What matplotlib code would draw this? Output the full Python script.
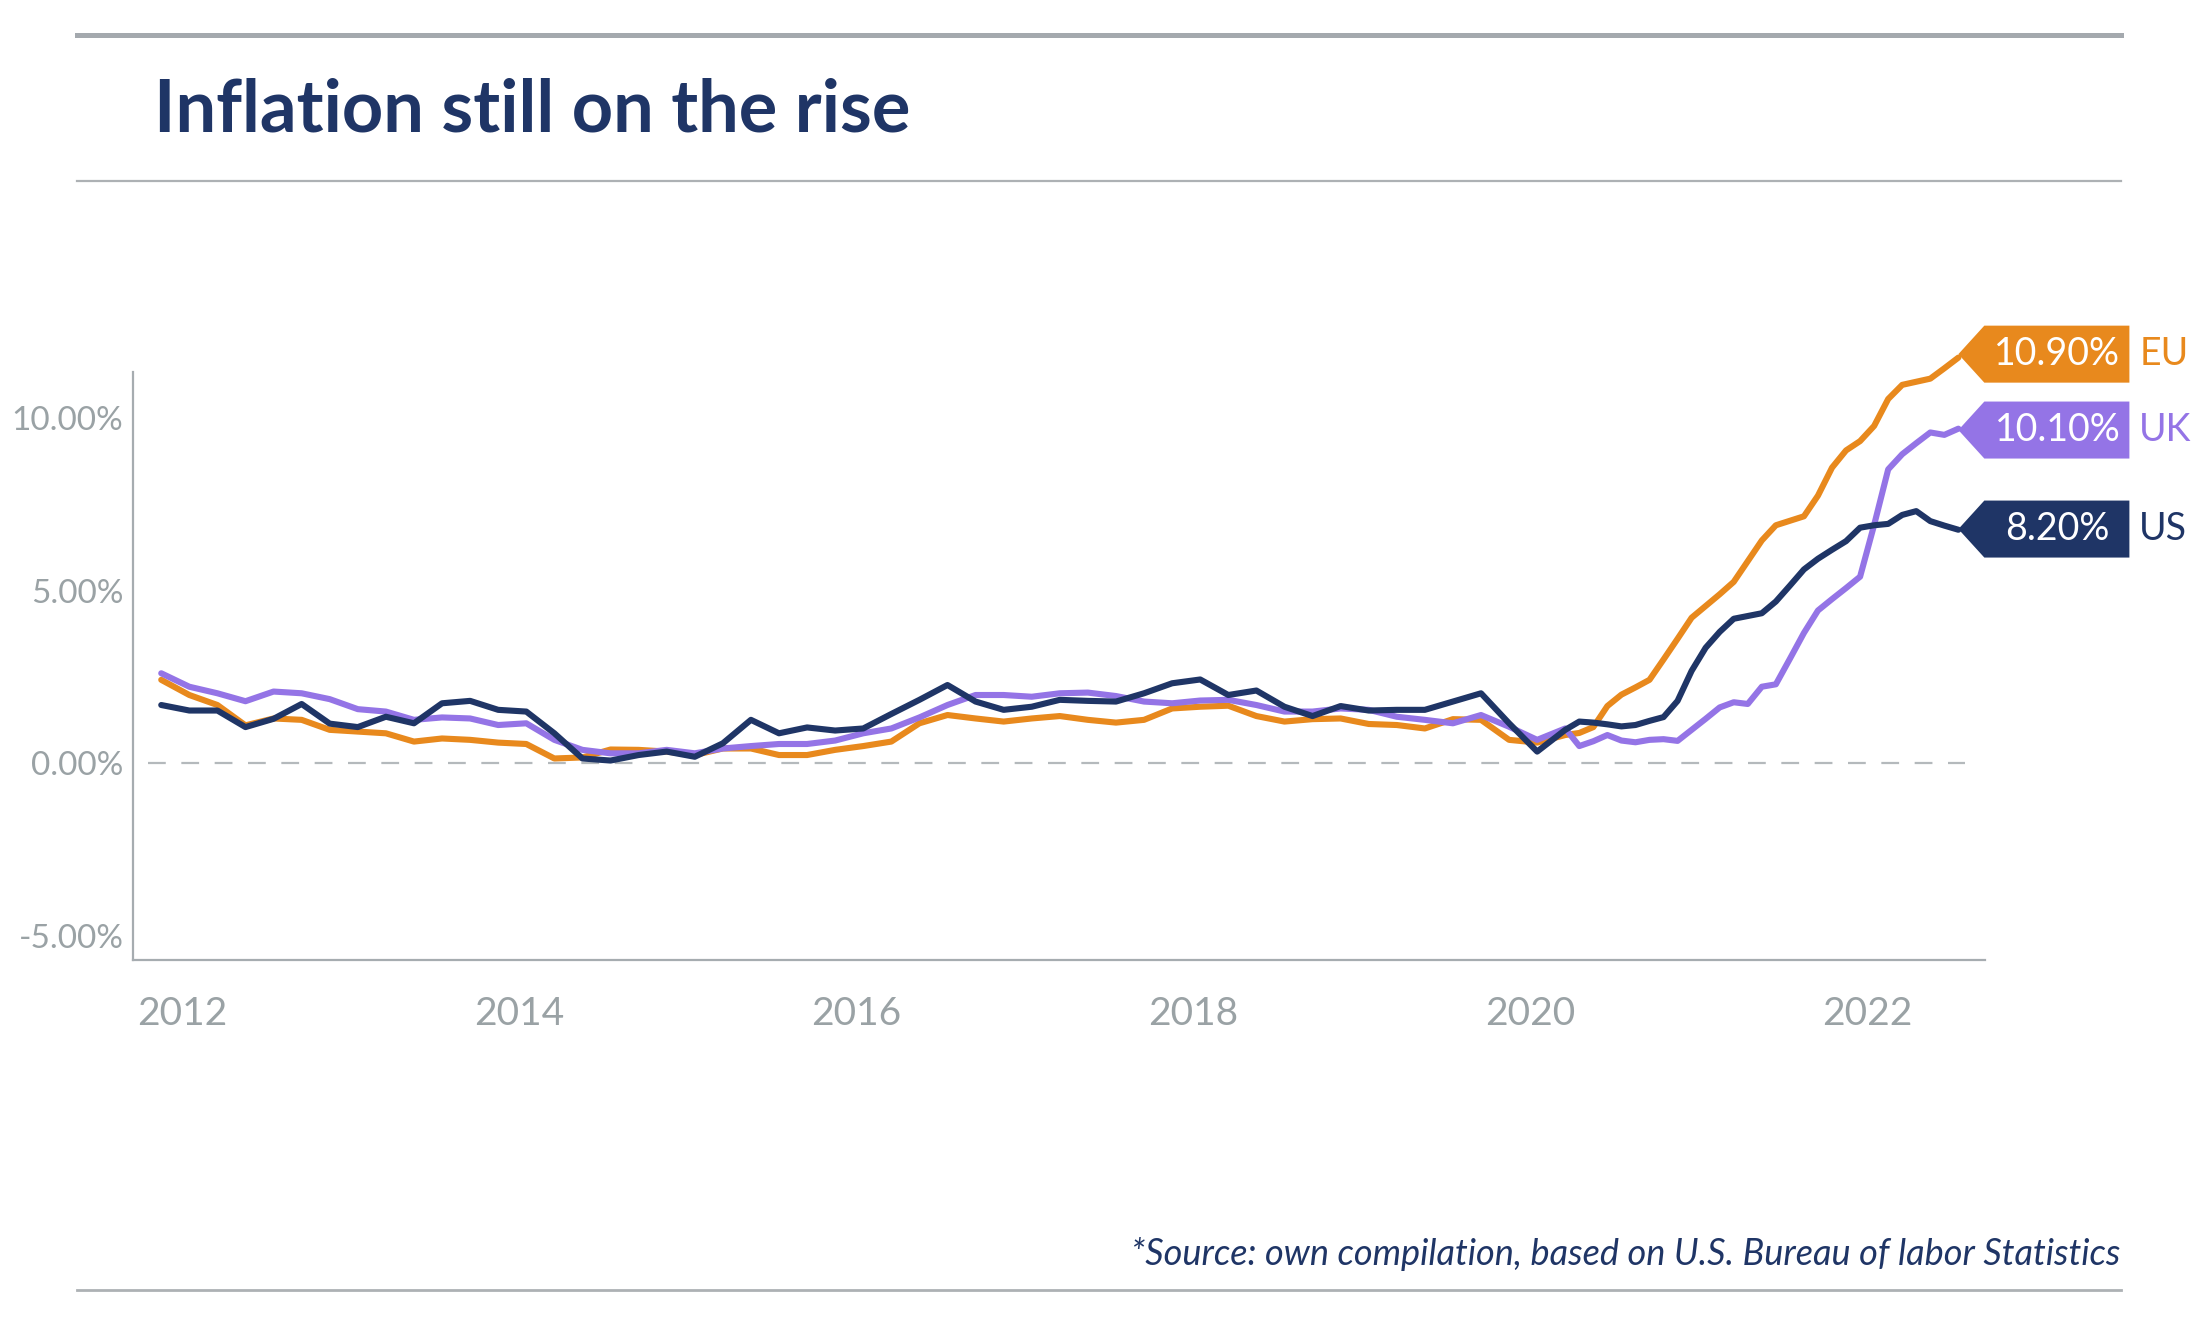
import numpy as np
import matplotlib
matplotlib.use("Agg")
import matplotlib.pyplot as plt
from matplotlib.lines import Line2D
from matplotlib.patches import Polygon
from matplotlib.ticker import FuncFormatter

# months after mid Nov 2011 (2-monthly, then monthly from month 100)
months = list(range(0, 100, 2)) + list(range(100, 129))

us = [1.69, 1.53, 1.53, 1.05, 1.29, 1.72, 1.15, 1.05, 1.35, 1.16,
      1.74, 1.81, 1.55, 1.50, 0.87, 0.14, 0.08, 0.24, 0.34, 0.19,
      0.58, 1.26, 0.87, 1.04, 0.95, 1.01, 1.43, 1.84, 2.27, 1.79,
      1.55, 1.64, 1.84, 1.81, 1.79, 2.03, 2.32, 2.43, 1.98, 2.11,
      1.64, 1.37, 1.66, 1.53, 1.55, 1.55, 1.79, 2.03, 1.16, 0.34,
      0.97, 1.21, 1.18, 1.13, 1.07, 1.11, 1.23, 1.34, 1.81, 2.68,
      3.35, 3.81, 4.19, 4.27, 4.35, 4.69, 5.15, 5.62, 5.93, 6.19,
      6.44, 6.83, 6.90, 6.94, 7.20, 7.31, 7.02, 6.89, 6.77]

uk = [2.61, 2.22, 2.03, 1.80, 2.08, 2.03, 1.86, 1.57, 1.50, 1.26,
      1.33, 1.30, 1.11, 1.16, 0.68, 0.39, 0.29, 0.29, 0.39, 0.29,
      0.43, 0.50, 0.56, 0.56, 0.66, 0.87, 1.01, 1.33, 1.69, 1.98,
      1.98, 1.93, 2.03, 2.05, 1.95, 1.79, 1.74, 1.82, 1.84, 1.69,
      1.50, 1.50, 1.59, 1.55, 1.35, 1.26, 1.16, 1.40, 1.06, 0.68,
      1.01, 0.50, 0.64, 0.82, 0.66, 0.61, 0.68, 0.70, 0.65, 0.97,
      1.29, 1.62, 1.77, 1.72, 2.22, 2.29, 3.03, 3.78, 4.43, 4.76,
      5.08, 5.41, 6.91, 8.52, 8.96, 9.28, 9.59, 9.52, 9.70]

eu = [2.42, 1.98, 1.69, 1.10, 1.30, 1.26, 0.97, 0.92, 0.87, 0.63,
      0.72, 0.68, 0.60, 0.56, 0.14, 0.17, 0.40, 0.39, 0.34, 0.24,
      0.43, 0.43, 0.24, 0.24, 0.39, 0.50, 0.63, 1.16, 1.40, 1.30,
      1.21, 1.30, 1.37, 1.26, 1.18, 1.26, 1.59, 1.64, 1.67, 1.37,
      1.21, 1.28, 1.30, 1.14, 1.11, 1.01, 1.28, 1.26, 0.68, 0.60,
      0.82, 0.88, 1.05, 1.66, 1.99, 2.20, 2.42, 3.01, 3.61, 4.22,
      4.56, 4.90, 5.26, 5.86, 6.46, 6.90, 7.03, 7.16, 7.76, 8.57,
      9.07, 9.34, 9.78, 10.56, 10.97, 11.06, 11.15, 11.45, 11.76]

names = ["EU", "UK", "US"]
latest = ["10.90%", "10.10%", "8.20%"]
year_ticks = [2012, 2014, 2016, 2018, 2020, 2022]
y_ticks = [-5, 0, 5, 10]

navy = "#1F3566"
orange = "#E8891D"
purple = "#9474E6"
grey_txt = "#9AA2A5"
grey_line = "#A6ACB0"

plt.rcParams["font.family"] = ["Lato", "DejaVu Sans"]

x = 2011 + 10.5 / 12 + np.array(months) / 12.0

fig = plt.figure(figsize=(11, 6.585), dpi=200)
ax = fig.add_axes([0.0605, 0.2711, 0.8418, 0.4689])

series = [(eu, orange), (uk, purple), (us, navy)]
for vals, col in series:
    ax.plot(x, vals, color=col, lw=2.2, solid_joinstyle="round",
            solid_capstyle="round", zorder=3)

ax.axhline(0, xmin=0.008, xmax=0.989, color="#B4B9BC", lw=0.8,
           dashes=(8, 7), zorder=1)

ax.set_xlim(2011.708, 2022.70)
ax.set_ylim(-5.7, 12.2)
ax.set_xticks(year_ticks)
ax.set_yticks(y_ticks)
ax.yaxis.set_major_formatter(FuncFormatter(lambda v, p: "{:.2f}%".format(v)))
ax.tick_params(axis="both", length=0, colors=grey_txt)
ax.tick_params(axis="y", pad=3.5, labelsize=12)
ax.tick_params(axis="x", pad=13, labelsize=14)

for s in ["top", "right"]:
    ax.spines[s].set_visible(False)
ax.spines["left"].set_color(grey_line)
ax.spines["bottom"].set_color(grey_line)
ax.spines["left"].set_linewidth(0.8)
ax.spines["bottom"].set_linewidth(0.8)
ax.spines["left"].set_bounds(-5.7, 11.35)

# end-of-line tags
xe = x[-1]
half = 0.826
notch = 0.154
right = 1.015
ends = [eu[-1] + 0.1, uk[-1] - 0.04, us[-1] + 0.02]
colors = [orange, purple, navy]
for name, txt, ye, col in zip(names, latest, ends, colors):
    poly = Polygon([(xe, ye), (xe + notch, ye + half), (xe + right, ye + half),
                    (xe + right, ye - half), (xe + notch, ye - half)],
                   closed=True, facecolor=col, edgecolor="none",
                   clip_on=False, zorder=4)
    ax.add_patch(poly)
    ax.text(xe + 0.588, ye, txt, color="white", fontsize=13.5,
            ha="center", va="center", clip_on=False, zorder=5)
    ax.text(xe + 1.074, ye, name, color=col, fontsize=13.5,
            ha="left", va="center", clip_on=False, zorder=5)

# header / footer rules
fig.add_artist(Line2D([0.035, 0.964], [1 - 35 / 1317] * 2, color="#A4A9AE",
                      lw=1.8, transform=fig.transFigure))
fig.add_artist(Line2D([0.035, 0.964], [1 - 181 / 1317] * 2, color="#ADB1B4",
                      lw=0.8, transform=fig.transFigure))
fig.add_artist(Line2D([0.035, 0.964], [1 - 1290 / 1317] * 2, color="#ADB1B4",
                      lw=1.0, transform=fig.transFigure))

fig.text(0.07, 1 - 131 / 1317, "Inflation still on the rise", color=navy,
         fontsize=26, fontweight="bold", ha="left", va="baseline")
fig.text(0.964, 1 - 1265 / 1317,
         "*Source: own compilation, based on U.S. Bureau of labor Statistics",
         color=navy, fontsize=13, style="italic",
         ha="right", va="baseline")

fig.savefig("out.png", dpi=200)
plt.close(fig)
